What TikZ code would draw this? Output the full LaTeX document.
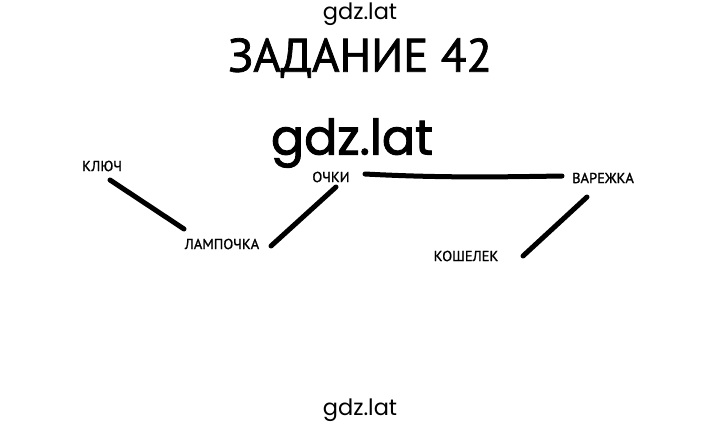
\documentclass[tikz,border=0pt]{standalone}
\usepackage{fontspec}
\setmainfont{PT Sans}
\newfontfamily\wmfont{Poppins}
\newfontfamily\wmboldfont[FakeBold=2]{Poppins}
\newfontfamily\titlefont[FakeBold=1.5]{PT Sans}
\newfontfamily\labelfont[FakeBold=1.2]{PT Sans}
\begin{document}
\begin{tikzpicture}[x=1pt,y=-1pt,
  lbl/.style={inner sep=0pt,font=\labelfont\fontsize{14.5}{14.5}\selectfont},
  wm/.style={inner sep=0pt,font=\wmfont\fontsize{22.5}{22.5}\selectfont},
  conn/.style={line width=5pt,line cap=round,black}]
\useasboundingbox[fill=white] (0,0) rectangle (720,425);
\node[wm] (wmtop) at (360,14) {gdz.lat};
\node[inner sep=0pt,font=\titlefont\fontsize{47}{47}\selectfont] (title) at (360,58) {ЗАДАНИЕ 42};
\node[inner sep=0pt,font=\wmboldfont\fontsize{49}{49}\selectfont] (wmmid) at (352,143) {gdz.lat};
\node[wm] (wmbot) at (360,410) {gdz.lat};
\node[lbl] (klyuch) at (102,166) {КЛЮЧ};
\node[lbl] (ochki) at (331,177) {ОЧКИ};
\node[lbl] (lamp) at (222,244) {ЛАМПОЧКА};
\node[lbl] (varezh) at (603,178) {ВАРЕЖКА};
\node[lbl] (kosh) at (466,256) {КОШЕЛЕК};
\draw[conn] ([shift={(8,14)}]klyuch.center) -- ([shift={(-38,-15)}]lamp.center);
\draw[conn] ([shift={(49,2)}]lamp.center) -- ([shift={(5,10)}]ochki.center);
\draw[conn] ([shift={(34,-3)}]ochki.center) .. controls (440,178) and (500,177) .. ([shift={(-41,-2)}]varezh.center);
\draw[conn] ([shift={(-16,19)}]varezh.center) -- ([shift={(57,0)}]kosh.center);
\end{tikzpicture}
\end{document}
